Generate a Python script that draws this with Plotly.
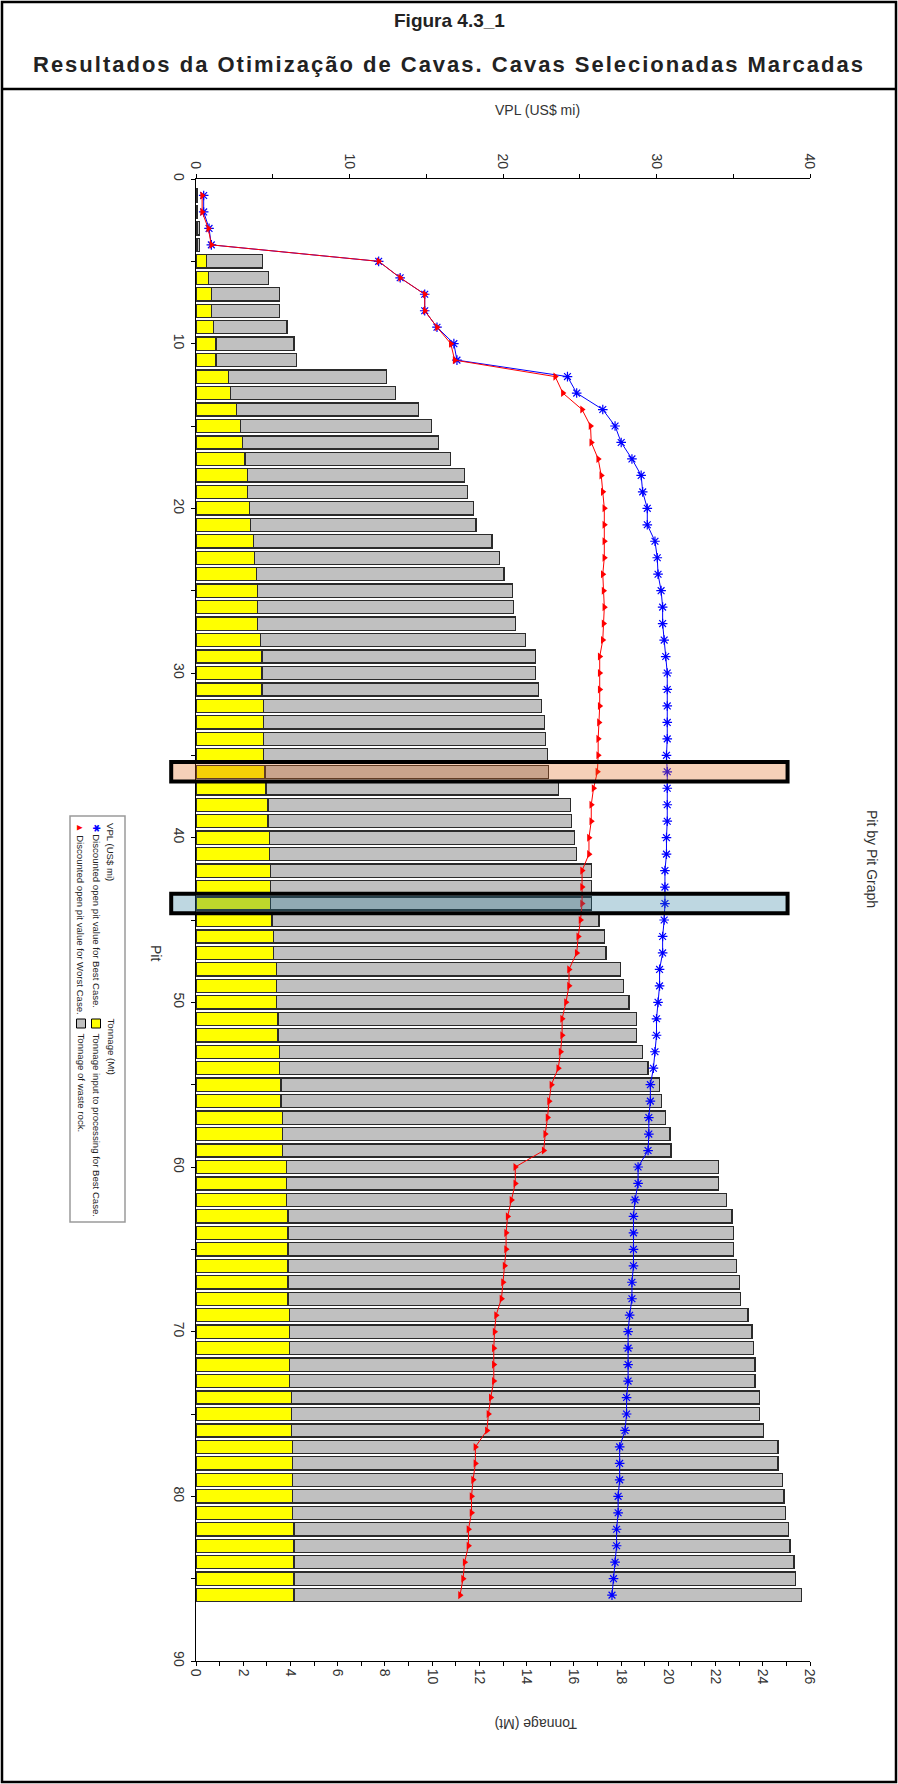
import plotly.graph_objects as go

# ---------------- data ----------------
pit = list(range(1, 87))

ore_mt = [0.02, 0.02, 0.06, 0.06, 0.45, 0.53, 0.66, 0.66, 0.73, 0.85,
          0.85, 1.39, 1.46, 1.71, 1.89, 1.96, 2.08, 2.19, 2.19, 2.26,
          2.32, 2.42, 2.49, 2.55, 2.60, 2.60, 2.60, 2.74, 2.80, 2.80,
          2.80, 2.85, 2.85, 2.85, 2.85, 2.92, 2.97, 3.05, 3.05, 3.10,
          3.10, 3.15, 3.15, 3.15, 3.22, 3.28, 3.28, 3.40, 3.40, 3.40,
          3.47, 3.47, 3.53, 3.53, 3.60, 3.60, 3.65, 3.65, 3.65, 3.83,
          3.83, 3.83, 3.90, 3.90, 3.90, 3.90, 3.90, 3.90, 3.95, 3.95,
          3.95, 3.95, 3.95, 4.04, 4.04, 4.04, 4.10, 4.10, 4.10, 4.10,
          4.10, 4.15, 4.15, 4.15, 4.15, 4.15]

total_mt = [0.05, 0.05, 0.15, 0.15, 2.81, 3.06, 3.54, 3.54, 3.85, 4.15,
            4.27, 8.07, 8.44, 9.42, 9.97, 10.28, 10.77, 11.38, 11.50, 11.75,
            11.86, 12.54, 12.84, 13.04, 13.39, 13.45, 13.52, 13.94, 14.37, 14.37,
            14.50, 14.62, 14.75, 14.80, 14.87, 14.94, 15.35, 15.85, 15.90, 16.03,
            16.10, 16.76, 16.76, 16.76, 17.06, 17.31, 17.36, 17.99, 18.09, 18.34,
            18.66, 18.66, 18.90, 19.14, 19.64, 19.70, 19.88, 20.07, 20.12, 22.14,
            22.14, 22.46, 22.70, 22.76, 22.76, 22.88, 23.00, 23.06, 23.37, 23.54,
            23.60, 23.67, 23.67, 23.85, 23.85, 24.04, 24.65, 24.65, 24.83, 24.90,
            24.95, 25.08, 25.15, 25.32, 25.38, 25.65]

waste_mt = [round(t - o, 3) for t, o in zip(total_mt, ore_mt)]

vpl_best = [0.5, 0.5, 0.85, 1.0, 11.9, 13.3, 14.9, 14.9, 15.7, 16.8,
            17.0, 24.2, 24.8, 26.5, 27.3, 27.7, 28.4, 29.0, 29.1, 29.4,
            29.4, 29.9, 30.05, 30.1, 30.3, 30.4, 30.4, 30.5, 30.6, 30.7,
            30.7, 30.7, 30.7, 30.7, 30.65, 30.7, 30.7, 30.7, 30.7, 30.65,
            30.65, 30.55, 30.55, 30.55, 30.5, 30.4, 30.4, 30.2, 30.2, 30.1,
            30.0, 30.0, 29.9, 29.8, 29.6, 29.6, 29.5, 29.5, 29.45, 28.8,
            28.8, 28.6, 28.5, 28.5, 28.5, 28.5, 28.4, 28.4, 28.25, 28.15,
            28.15, 28.15, 28.15, 28.05, 28.05, 27.95, 27.6, 27.6, 27.6, 27.5,
            27.5, 27.4, 27.4, 27.3, 27.2, 27.1]

vpl_worst = [0.4, 0.4, 0.8, 1.0, 11.9, 13.3, 14.9, 14.9, 15.7, 16.6,
             16.85, 23.4, 23.9, 25.15, 25.7, 25.75, 26.2, 26.4, 26.5, 26.6,
             26.6, 26.6, 26.6, 26.5, 26.55, 26.6, 26.55, 26.5, 26.3, 26.3,
             26.3, 26.3, 26.25, 26.2, 26.2, 26.15, 25.9, 25.75, 25.75, 25.6,
             25.6, 25.15, 25.15, 25.15, 25.05, 24.9, 24.8, 24.3, 24.3, 24.1,
             23.85, 23.85, 23.75, 23.6, 23.15, 23.0, 22.9, 22.75, 22.65, 20.8,
             20.8, 20.55, 20.3, 20.2, 20.2, 20.1, 20.0, 19.9, 19.55, 19.45,
             19.4, 19.4, 19.4, 19.2, 19.05, 18.95, 18.2, 18.2, 18.05, 17.95,
             17.95, 17.75, 17.75, 17.5, 17.4, 17.2]

selected_pits = [36, 44]
selected_fill = ["rgba(222,100,20,0.30)", "rgba(30,117,152,0.29)"]

pit_ticks = list(range(0, 91, 5))
pit_labels = [str(v) if v % 10 == 0 else "" for v in pit_ticks]
ton_ticks = list(range(0, 27))
ton_labels = [str(v) if v % 2 == 0 else "" for v in ton_ticks]
vpl_ticks = list(range(0, 41, 5))
vpl_labels = [str(v) if v % 10 == 0 else "" for v in vpl_ticks]

PIT_RANGE = [90, 0]
TON_RANGE = [0, 26]
VPL_RANGE = [0, 40]

# ---------------- page geometry ----------------
W, H = 898, 1784
ML, MR, MT, MB = 196, 88, 179, 123
PW, PH = W - ML - MR, H - MT - MB


def fx(p):
    """page pixel x -> paper x"""
    return (p - ML) / PW


def fy(p):
    """page pixel y (from top) -> paper y"""
    return (H - MB - p) / PH


def pit_dom(v):
    """pit value -> y-domain fraction (axis is reversed)"""
    return (PIT_RANGE[0] - v) / (PIT_RANGE[0] - PIT_RANGE[1])


FONT = "Liberation Sans, Arial, sans-serif"
EDGE = "#2b2b2b"

fig = go.Figure()

fig.add_trace(go.Bar(
    x=ore_mt, y=pit, orientation="h", name="Tonnage input to processing for Best Case.",
    marker=dict(color="#FFFF00", line=dict(color=EDGE, width=1.3)),
    xaxis="x", yaxis="y", showlegend=False))
fig.add_trace(go.Bar(
    x=waste_mt, y=pit, orientation="h", name="Tonnage of waste rock.",
    marker=dict(color="#C0C0C0", line=dict(color=EDGE, width=1.3)),
    xaxis="x", yaxis="y", showlegend=False))

fig.add_trace(go.Scatter(
    x=vpl_best, y=pit, mode="lines+markers", name="Discounted open pit value for Best Case.",
    line=dict(color="#0000FF", width=1),
    marker=dict(symbol="asterisk-open", size=8, line=dict(color="#0000FF", width=1.2)),
    xaxis="x2", yaxis="y", showlegend=False))
fig.add_trace(go.Scatter(
    x=vpl_worst, y=pit, mode="lines+markers", name="Discounted open pit value for Worst Case.",
    line=dict(color="#FF0000", width=1),
    marker=dict(symbol="triangle-right", size=7, color="#FF0000"),
    xaxis="x2", yaxis="y", showlegend=False))

axis_common = dict(showgrid=False, zeroline=False, showline=True, linecolor="black",
                   linewidth=1, ticks="outside", ticklen=4, tickcolor="black",
                   tickangle=90, tickfont=dict(family=FONT, size=14, color="#333333"))

shapes = []
# outer frame and title separator
shapes.append(dict(type="rect", xref="paper", yref="paper",
                   x0=fx(2), x1=fx(896), y0=fy(2), y1=fy(1782),
                   line=dict(color="black", width=2.5), layer="above"))
shapes.append(dict(type="line", xref="paper", yref="paper",
                   x0=fx(2), x1=fx(896), y0=fy(89), y1=fy(89),
                   line=dict(color="black", width=2.5)))

# selected pits
for p, c in zip(selected_pits, selected_fill):
    shapes.append(dict(type="rect", xref="paper", yref="y domain",
                       x0=-1.05 / TON_RANGE[1], x1=25.05 / TON_RANGE[1],
                       y0=pit_dom(p + 0.59), y1=pit_dom(p - 0.59),
                       fillcolor=c, line=dict(color="black", width=4), layer="above"))

# legend frame and swatches
LEG_L, LEG_R, LEG_T, LEG_B = 70, 125, 816, 1222
COL_HEAD, COL_A, COL_B = 111, 96, 81
TON_TOP = 1016
shapes.append(dict(type="rect", xref="paper", yref="paper",
                   x0=fx(LEG_L), x1=fx(LEG_R), y0=fy(LEG_B), y1=fy(LEG_T),
                   fillcolor="white", line=dict(color="#9a9a9a", width=1.5), layer="below"))
for cx, col in [(COL_A, "#FFFF00"), (COL_B, "#C0C0C0")]:
    shapes.append(dict(type="rect", xref="paper", yref="paper",
                       x0=fx(cx - 4.5), x1=fx(cx + 4.5),
                       y0=fy(TON_TOP + 12), y1=fy(TON_TOP + 3),
                       fillcolor=col, line=dict(color="black", width=1)))

ann = []
ann.append(dict(text="<b>Figura 4.3_1</b>", xref="paper", yref="paper",
                x=fx(449), y=fy(20), xanchor="center", yanchor="middle", showarrow=False,
                font=dict(family=FONT, size=19, color="#222")))
ann.append(dict(text="<b><span style='letter-spacing:2px'>Resultados da Otimização de Cavas. "
                     "Cavas Selecionadas Marcadas</span></b>",
                xref="paper", yref="paper", x=fx(449), y=fy(64),
                xanchor="center", yanchor="middle", showarrow=False,
                font=dict(family=FONT, size=22, color="#222")))
ann.append(dict(text="VPL (US$ mi)", xref="paper", yref="paper", x=fx(537), y=fy(110),
                xanchor="center", yanchor="middle", showarrow=False,
                font=dict(family=FONT, size=14, color="#333")))
ann.append(dict(text="Tonnage (Mt)", xref="paper", yref="paper", x=fx(536), y=fy(1724),
                xanchor="center", yanchor="middle", showarrow=False, textangle=180,
                font=dict(family=FONT, size=14, color="#333")))
ann.append(dict(text="Pit", xref="paper", yref="y", x=fx(156), y=47,
                xanchor="center", yanchor="middle", showarrow=False, textangle=90,
                font=dict(family=FONT, size=14, color="#333")))
ann.append(dict(text="Pit by Pit Graph", xref="paper", yref="paper", x=fx(872), y=fy(859),
                xanchor="center", yanchor="middle", showarrow=False, textangle=90,
                font=dict(family=FONT, size=14, color="#333")))

leg_font = dict(family=FONT, size=9.6, color="#222")
legend_rows = [
    (COL_HEAD, LEG_T + 5, "VPL (US$ mi)"),
    (COL_A, LEG_T + 5, "<span style='color:#0000FF'>✱</span> Discounted open pit value for Best Case."),
    (COL_B, LEG_T + 5, "<span style='color:#FF0000'>▲</span> Discounted open pit value for Worst Case."),
    (COL_HEAD, TON_TOP, "Tonnage (Mt)"),
    (COL_A, TON_TOP + 15, "Tonnage input to processing for Best Case."),
    (COL_B, TON_TOP + 15, "Tonnage of waste rock."),
]
for cx, top, txt in legend_rows:
    ann.append(dict(text=txt, xref="paper", yref="paper", x=fx(cx), y=fy(top),
                    xanchor="center", yanchor="top", showarrow=False, textangle=90,
                    font=leg_font))

fig.update_layout(
    width=W, height=H,
    margin=dict(l=ML, r=MR, t=MT, b=MB, pad=0),
    paper_bgcolor="white", plot_bgcolor="white",
    barmode="stack", bargap=0.2,
    xaxis=dict(range=TON_RANGE, tickvals=ton_ticks, ticktext=ton_labels,
               side="bottom", anchor="y", **axis_common),
    xaxis2=dict(range=VPL_RANGE, tickvals=vpl_ticks, ticktext=vpl_labels,
                side="top", overlaying="x", anchor="y", **axis_common),
    yaxis=dict(range=PIT_RANGE, tickvals=pit_ticks, ticktext=pit_labels,
               anchor="x", **axis_common),
    shapes=shapes, annotations=ann,
    showlegend=False,
)

fig.write_html("out.html")
